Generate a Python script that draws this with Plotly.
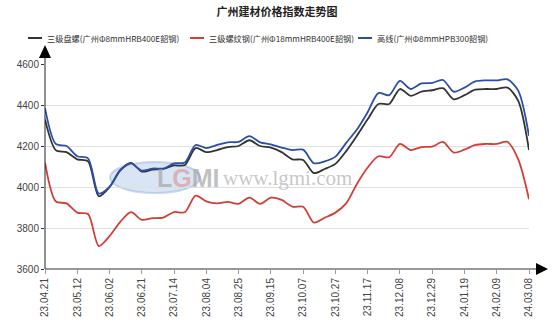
import plotly.graph_objects as go

dates = ["23.04.21","23.04.28","23.05.05","23.05.12","23.05.19","23.05.26","23.06.02","23.06.09",
         "23.06.16","23.06.21","23.06.30","23.07.07","23.07.14","23.07.21","23.07.28","23.08.04",
         "23.08.11","23.08.18","23.08.25","23.09.01","23.09.08","23.09.15","23.09.22","23.09.28",
         "23.10.07","23.10.13","23.10.20","23.10.27","23.11.03","23.11.10","23.11.17","23.11.24",
         "23.12.01","23.12.08","23.12.15","23.12.22","23.12.29","24.01.05","24.01.12","24.01.19",
         "24.01.26","24.02.02","24.02.09","24.02.23","24.03.01","24.03.08"]

panluo = [4330,4180,4170,4135,4125,3955,4000,4083,4118,4075,4085,4088,4105,4107,4190,4170,
          4180,4195,4200,4228,4200,4192,4170,4135,4132,4068,4088,4113,4175,4250,4330,4405,
          4405,4478,4445,4465,4472,4482,4428,4448,4475,4478,4478,4485,4420,4180]
luowen = [4120,3930,3920,3875,3868,3712,3760,3830,3877,3840,3848,3851,3878,3877,3958,3930,
          3920,3927,3918,3948,3918,3948,3937,3904,3904,3826,3850,3875,3920,4015,4095,4150,
          4145,4210,4180,4195,4197,4220,4168,4182,4205,4210,4210,4220,4135,3940]
gaoxian = [4385,4210,4200,4150,4140,3968,4000,4080,4115,4080,4090,4090,4115,4120,4205,4190,
           4205,4218,4220,4248,4218,4208,4192,4180,4182,4116,4125,4148,4215,4280,4365,4458,
           4448,4518,4478,4505,4508,4522,4465,4485,4515,4520,4520,4525,4470,4250]

names = ["三级盘螺(广州Φ8mmHRB400E韶钢)", "三级螺纹钢(广州Φ18mmHRB400E韶钢)", "高线(广州Φ8mmHPB300韶钢)"]
colors = ["#333333", "#d23f36", "#2b4ea6"]
series = [panluo, luowen, gaoxian]

tick_idx = list(range(0, len(dates), 3))
tick_txt = [dates[i] for i in tick_idx]
x = list(range(len(dates)))

W, H = 554, 329
L, R, T, B = 45, 25, 64, 60
PW, PH = W - L - R, H - T - B

def px(xp):  # pixel x -> paper
    return (xp - L) / PW

def py(yp):  # pixel y -> paper
    return (H - B - yp) / PH

fig = go.Figure()
for nm, col, ys in zip(names, colors, series):
    fig.add_trace(go.Scatter(x=x, y=ys, mode="lines", name=nm, showlegend=False,
                             line=dict(color=col, width=1.8, shape="spline", smoothing=0.8)))

# manual legend (line sample + text)
leg_line_x = [28, 190, 358]
for nm, col, lx in zip(names, colors, leg_line_x):
    fig.add_shape(type="line", xref="paper", yref="paper", x0=px(lx), x1=px(lx + 14),
                  y0=py(38), y1=py(38), line=dict(color=col, width=2))
    fig.add_annotation(xref="paper", yref="paper", x=px(lx + 17), y=py(38), xanchor="left",
                       yanchor="middle", text=nm, showarrow=False,
                       font=dict(family="Noto Sans CJK SC", size=8.2, color="#333333"))

# watermark
fig.add_shape(type="circle", xref="paper", yref="paper", x0=px(110), x1=px(200),
              y0=py(193), y1=py(162), fillcolor="rgba(170,195,230,0.45)",
              line=dict(color="rgba(150,180,225,0.5)", width=2), layer="below")
fig.add_annotation(xref="paper", yref="paper", x=px(155), y=py(178),
                   text="<b>L<span style='color:rgba(220,120,120,0.7)'>G</span>MI</b>",
                   showarrow=False, font=dict(family="Liberation Sans", size=25, color="rgba(165,165,165,0.7)"))
fig.add_annotation(xref="paper", yref="paper", x=px(287), y=py(178), text="www.lgmi.com",
                   showarrow=False, font=dict(family="Liberation Serif", size=21, color="rgba(185,185,185,0.8)"))

# axis lines and arrows
fig.add_shape(type="line", xref="paper", yref="paper", x0=0, x1=px(540), y0=0, y1=0,
              line=dict(color="#777777", width=1.5))
fig.add_shape(type="path", xref="paper", yref="paper",
              path=f"M {px(536)},{6/PH} L {px(548)},0 L {px(536)},{-6/PH} Z",
              fillcolor="#000000", line=dict(color="#000000", width=0))
fig.add_shape(type="line", xref="paper", yref="paper", x0=0, x1=0, y0=0, y1=py(52),
              line=dict(color="#222222", width=1))
fig.add_shape(type="path", xref="paper", yref="paper",
              path=f"M {-6/PW},{py(58)} L 0,{py(45)} L {6/PW},{py(58)} Z",
              fillcolor="#000000", line=dict(color="#000000", width=0))

fig.update_layout(
    width=W, height=H,
    margin=dict(l=L, r=R, t=T, b=B, autoexpand=False),
    paper_bgcolor="white", plot_bgcolor="white",
    showlegend=False,
    title=dict(text="<b>广州建材价格指数走势图</b>", x=0.5, xanchor="center", y=1 - 12/H,
               yanchor="middle", font=dict(family="Noto Sans CJK SC", size=11, color="#222222")),
    xaxis=dict(range=[0, 45], tickmode="array", tickvals=tick_idx, ticktext=tick_txt,
               tickangle=-90, ticks="outside", ticklen=4, tickcolor="#999999",
               showgrid=False, zeroline=False, showline=False,
               tickfont=dict(family="Liberation Sans", size=10, color="#444444")),
    yaxis=dict(range=[3600, 4600], tickvals=[3600, 3800, 4000, 4200, 4400, 4600], ticks="outside",
               ticklen=3, tickcolor="#333333", showgrid=True, gridcolor="#e0e0e0", gridwidth=1,
               zeroline=False, showline=False,
               tickfont=dict(family="Liberation Sans", size=10, color="#444444")),
)
fig.write_html("out.html")
